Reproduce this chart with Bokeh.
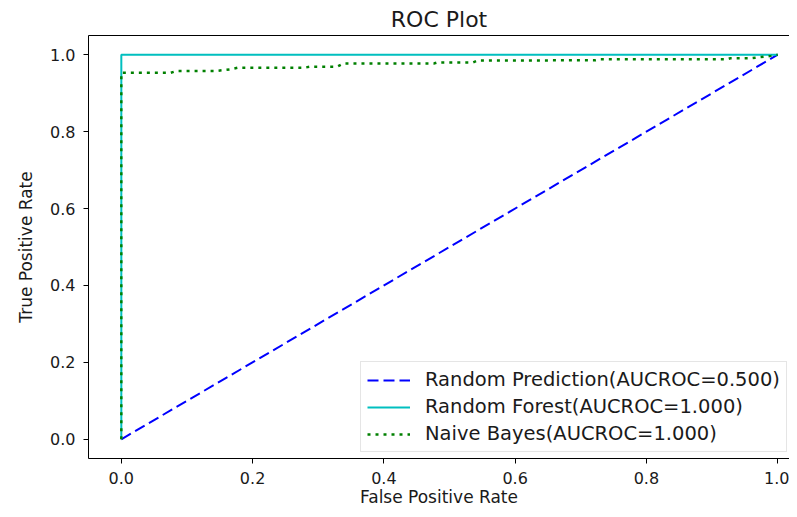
from bokeh.plotting import figure
from bokeh.models import Range1d, FixedTicker, LinearAxis, NumeralTickFormatter, Legend, LegendItem
from bokeh.embed import file_html
from bokeh.resources import INLINE

# data
rp_fpr = [0.0, 1.0]
rp_tpr = [0.0, 1.0]
rf_fpr = [0.0, 0.0, 1.0]
rf_tpr = [0.0, 1.0, 1.0]
nb_fpr = [0.0, 0.0, 0.075, 0.085, 0.146, 0.166, 0.177, 0.278, 0.288, 0.329, 0.338,
          0.476, 0.482, 0.536, 0.543, 0.722, 0.730, 0.922, 0.928, 0.960, 0.970, 0.990, 1.0]
nb_tpr = [0.0, 0.953, 0.953, 0.958, 0.958, 0.962, 0.966, 0.966, 0.969, 0.969, 0.977,
          0.977, 0.980, 0.980, 0.985, 0.9855, 0.988, 0.988, 0.991, 0.991, 0.993, 0.997, 1.0]
ticks = [0.0, 0.2, 0.4, 0.6, 0.8, 1.0]
labels = ["Random Prediction(AUCROC=0.500)", "Random Forest(AUCROC=1.000)", "Naive Bayes(AUCROC=1.000)"]

FONT = "DejaVu Sans"
TXT = "#1a1a1a"

p = figure(width=789, height=509, output_backend="svg", toolbar_location=None,
           x_range=Range1d(-0.05, 1.018), y_range=Range1d(-0.05, 1.05),
           min_border_left=88, min_border_right=0, min_border_top=35, min_border_bottom=40,
           title="ROC Plot")
p.outline_line_color = None
p.background_fill_color = "white"
p.border_fill_color = "white"
p.grid.visible = False

p.title.align = "center"
p.title.text_font = FONT
p.title.text_font_size = "22px"
p.title.text_font_style = "normal"
p.title.text_color = TXT
p.title.standoff = 7

for ax in (p.xaxis[0], p.yaxis[0]):
    ax.ticker = FixedTicker(ticks=ticks)
    ax.formatter = NumeralTickFormatter(format="0.0")
    ax.major_tick_in = 0
    ax.major_tick_out = 5
    ax.minor_tick_line_color = None
    ax.axis_line_color = "black"
    ax.major_tick_line_color = "black"
    ax.major_label_text_font = FONT
    ax.major_label_text_font_size = "16px"
    ax.major_label_text_color = TXT
    ax.axis_label_text_font = FONT
    ax.axis_label_text_font_size = "17px"
    ax.axis_label_text_font_style = "normal"
    ax.axis_label_text_color = TXT

p.xaxis.axis_label = "False Positive Rate"
p.yaxis.axis_label = "True Positive Rate"
p.xaxis.major_label_standoff = 8
p.xaxis.axis_label_standoff = 0
p.yaxis.major_label_standoff = 8
p.yaxis.axis_label_standoff = 11

top_axis = LinearAxis(ticker=FixedTicker(ticks=[]), axis_line_color="black",
                      major_tick_line_color=None, minor_tick_line_color=None,
                      major_label_text_font_size="0px")
p.add_layout(top_axis, "above")

r1 = p.line(rp_fpr, rp_tpr, line_color="#0000ff", line_width=2, line_dash="11 5")
r2 = p.line(rf_fpr, rf_tpr, line_color="#00bfbf", line_width=2)
r3 = p.line(nb_fpr, nb_tpr, line_color="#008000", line_width=2.5, line_dash="3 5")

legend = Legend(items=[LegendItem(label=labels[0], renderers=[r1]),
                       LegendItem(label=labels[1], renderers=[r2]),
                       LegendItem(label=labels[2], renderers=[r3])],
                location=(272, 6))
legend.label_text_font = FONT
legend.label_text_font_size = "19.5px"
legend.label_text_color = TXT
legend.glyph_width = 43
legend.glyph_height = 20
legend.label_height = 20
legend.label_standoff = 15
legend.spacing = 4
legend.padding = 6
legend.margin = 0
legend.border_line_color = "#cccccc"
legend.border_line_width = 1
legend.background_fill_alpha = 0.8
p.add_layout(legend)

open("out.html", "w").write(file_html(p, INLINE))
